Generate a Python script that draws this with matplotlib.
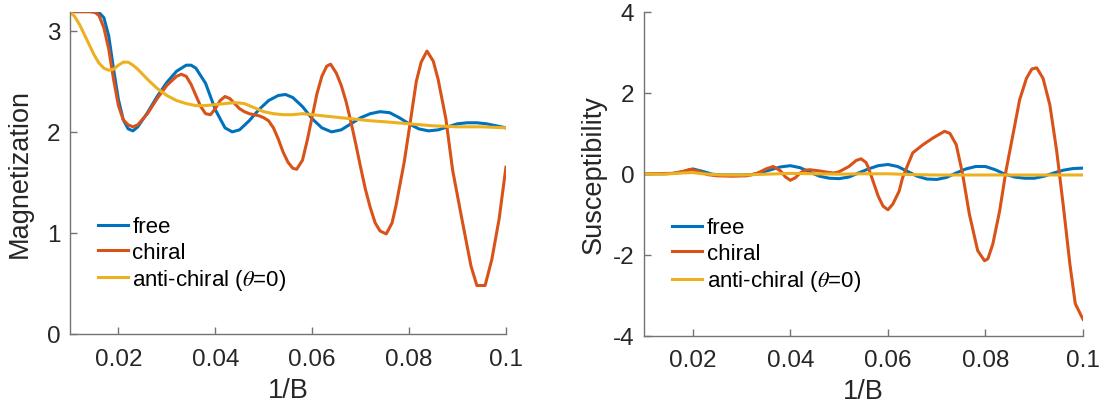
import matplotlib
matplotlib.use('Agg')
import matplotlib.pyplot as plt

plt.rcParams['font.family'] = ['Liberation Sans', 'DejaVu Sans']
plt.rcParams['mathtext.fontset'] = 'stix'
plt.rcParams['axes.unicode_minus'] = False

# Magnetization (left panel)
x_free_m = [0.010, 0.014, 0.016, 0.017, 0.018, 0.019, 0.020, 0.021, 0.022, 0.023, 0.024,
            0.026, 0.028, 0.030, 0.032, 0.034, 0.035, 0.036, 0.038, 0.040, 0.042, 0.0435,
            0.045, 0.047, 0.049, 0.051, 0.053, 0.0545, 0.056, 0.058, 0.060, 0.062, 0.064,
            0.066, 0.068, 0.070, 0.072, 0.074, 0.076, 0.078, 0.080, 0.082, 0.084, 0.086,
            0.088, 0.090, 0.092, 0.094, 0.096, 0.098, 0.100]
free_m = [3.19, 3.19, 3.18, 3.13, 2.95, 2.62, 2.32, 2.12, 2.03, 2.01, 2.05,
          2.19, 2.35, 2.49, 2.60, 2.66, 2.66, 2.63, 2.48, 2.22, 2.04, 2.00,
          2.02, 2.11, 2.22, 2.31, 2.36, 2.37, 2.34, 2.25, 2.13, 2.04, 2.00,
          2.02, 2.08, 2.14, 2.18, 2.20, 2.19, 2.14, 2.08, 2.03, 2.01, 2.02,
          2.05, 2.08, 2.09, 2.09, 2.08, 2.06, 2.04]

x_chiral_m = [0.010, 0.015, 0.016, 0.017, 0.018, 0.019, 0.020, 0.021, 0.022, 0.023, 0.024,
              0.026, 0.028, 0.030, 0.032, 0.033, 0.034, 0.035, 0.036, 0.037, 0.038, 0.039,
              0.040, 0.041, 0.042, 0.043, 0.044, 0.045, 0.046, 0.047, 0.048, 0.049, 0.050,
              0.051, 0.052, 0.053, 0.054, 0.055, 0.056, 0.0568, 0.058, 0.059, 0.060, 0.061,
              0.062, 0.063, 0.0638, 0.065, 0.066, 0.067, 0.068, 0.069, 0.070, 0.071, 0.072,
              0.073, 0.074, 0.0753, 0.0765, 0.0773, 0.079, 0.0802, 0.0815, 0.0825, 0.0837,
              0.085, 0.086, 0.0876, 0.089, 0.0909, 0.0928, 0.094, 0.0957, 0.0971, 0.0986, 0.100]
chiral_m = [3.19, 3.19, 3.15, 3.03, 2.82, 2.52, 2.26, 2.12, 2.07, 2.05, 2.07,
            2.18, 2.33, 2.46, 2.55, 2.57, 2.55, 2.47, 2.36, 2.25, 2.18, 2.17,
            2.23, 2.31, 2.35, 2.33, 2.28, 2.23, 2.20, 2.18, 2.17, 2.16, 2.14,
            2.11, 2.04, 1.93, 1.80, 1.70, 1.64, 1.63, 1.72, 1.92, 2.15, 2.38,
            2.55, 2.65, 2.67, 2.58, 2.46, 2.30, 2.10, 1.88, 1.65, 1.43, 1.25,
            1.10, 1.02, 0.99, 1.10, 1.27, 1.70, 2.08, 2.50, 2.69, 2.80,
            2.70, 2.52, 2.13, 1.62, 1.14, 0.67, 0.48, 0.48, 0.74, 1.14, 1.65]

x_anti_m = [0.010, 0.011, 0.012, 0.013, 0.014, 0.015, 0.016, 0.017, 0.018, 0.019, 0.020,
            0.021, 0.022, 0.023, 0.024, 0.026, 0.028, 0.030, 0.032, 0.034, 0.036, 0.038,
            0.040, 0.042, 0.044, 0.046, 0.048, 0.050, 0.052, 0.054, 0.056, 0.058, 0.060,
            0.062, 0.064, 0.066, 0.068, 0.070, 0.072, 0.075, 0.080, 0.085, 0.090, 0.095, 0.100]
anti_m = [3.19, 3.14, 3.06, 2.96, 2.86, 2.76, 2.68, 2.63, 2.61, 2.62, 2.66,
          2.69, 2.69, 2.66, 2.62, 2.52, 2.43, 2.36, 2.31, 2.28, 2.26, 2.26,
          2.27, 2.28, 2.29, 2.28, 2.24, 2.20, 2.18, 2.17, 2.17, 2.18, 2.17,
          2.16, 2.15, 2.14, 2.13, 2.12, 2.11, 2.10, 2.08, 2.06, 2.05, 2.05, 2.04]

# Susceptibility (right panel)
x_free_s = [0.010, 0.014, 0.016, 0.018, 0.020, 0.022, 0.024, 0.026, 0.028, 0.030, 0.032,
            0.034, 0.036, 0.038, 0.040, 0.042, 0.044, 0.046, 0.048, 0.050, 0.052, 0.054,
            0.056, 0.058, 0.060, 0.062, 0.064, 0.066, 0.068, 0.070, 0.072, 0.074, 0.076,
            0.078, 0.080, 0.082, 0.084, 0.086, 0.088, 0.090, 0.092, 0.094, 0.096, 0.098, 0.100]
free_s = [0.00, 0.00, 0.01, 0.05, 0.12, 0.06, -0.01, -0.03, -0.03, -0.03, -0.02,
          0.03, 0.10, 0.17, 0.20, 0.15, 0.04, -0.06, -0.11, -0.12, -0.08, 0.02,
          0.12, 0.20, 0.23, 0.18, 0.06, -0.06, -0.13, -0.14, -0.09, 0.02, 0.12,
          0.18, 0.18, 0.10, -0.01, -0.08, -0.11, -0.11, -0.06, 0.02, 0.09, 0.13, 0.14]

x_chiral_s = [0.010, 0.016, 0.018, 0.0195, 0.021, 0.023, 0.025, 0.028, 0.031, 0.033, 0.035,
              0.0365, 0.038, 0.039, 0.040, 0.041, 0.042, 0.043, 0.044, 0.046, 0.048, 0.049,
              0.050, 0.052, 0.0535, 0.0545, 0.0555, 0.056, 0.057, 0.058, 0.059, 0.060, 0.061,
              0.0623, 0.063, 0.064, 0.0651, 0.0672, 0.0693, 0.0716, 0.0727, 0.074, 0.0753,
              0.0767, 0.0784, 0.0798, 0.0805, 0.0815, 0.0829, 0.0842, 0.086, 0.087, 0.0884,
              0.0895, 0.0905, 0.0918, 0.0932, 0.0946, 0.096, 0.0973, 0.0984, 0.100]
chiral_s = [0.00, 0.01, 0.06, 0.11, 0.07, -0.02, -0.05, -0.06, -0.05, 0.00, 0.12,
            0.18, 0.07, -0.08, -0.16, -0.10, 0.02, 0.09, 0.10, 0.07, 0.03, 0.02,
            0.05, 0.18, 0.33, 0.37, 0.28, 0.15, -0.20, -0.55, -0.80, -0.89, -0.75,
            -0.43, -0.10, 0.20, 0.52, 0.72, 0.89, 1.05, 1.00, 0.72, 0.00,
            -1.00, -1.90, -2.15, -2.10, -1.74, -0.92, 0.07, 1.20, 1.83, 2.36,
            2.59, 2.62, 2.36, 1.70, 0.56, -0.84, -2.23, -3.21, -3.60]

x_anti_s = [0.010, 0.014, 0.018, 0.020, 0.022, 0.026, 0.030, 0.035, 0.040, 0.045, 0.050,
            0.055, 0.060, 0.065, 0.070, 0.080, 0.090, 0.100]
anti_s = [0.00, -0.01, 0.02, 0.03, 0.00, -0.03, -0.03, -0.01, 0.01, 0.00, -0.01,
          0.00, 0.00, -0.02, -0.03, -0.03, -0.03, -0.03]

labels = ['free', 'chiral', r'anti-chiral ($\theta$=0)']
colors = ['#0072BD', '#D95319', '#EDB120']
xticks = [0.02, 0.04, 0.06, 0.08, 0.1]
xticklabels = ['0.02', '0.04', '0.06', '0.08', '0.1']

fig = plt.figure(figsize=(11.02, 4.06), dpi=100)
ax1 = fig.add_axes([0.0635, 0.1749, 0.3956, 0.794])
ax2 = fig.add_axes([0.5844, 0.171, 0.3984, 0.797])

ax1.plot(x_free_m, free_m, color=colors[0], lw=2.2, label=labels[0])
ax1.plot(x_chiral_m, chiral_m, color=colors[1], lw=2.2, label=labels[1])
ax1.plot(x_anti_m, anti_m, color=colors[2], lw=2.2, label=labels[2])
ax1.set_ylim(0, 3.19)
ax1.set_yticks([0, 1, 2, 3])
ax1.set_ylabel('Magnetization', fontsize=19.5, color='0.15', labelpad=10)

ax2.plot(x_free_s, free_s, color=colors[0], lw=2.2, label=labels[0])
ax2.plot(x_chiral_s, chiral_s, color=colors[1], lw=2.2, label=labels[1])
ax2.plot(x_anti_s, anti_s, color=colors[2], lw=2.2, label=labels[2])
ax2.set_ylim(-4, 4)
ax2.set_yticks([-4, -2, 0, 2, 4])
ax2.set_ylabel('Susceptibility', fontsize=19.5, color='0.15', labelpad=4)

for ax in (ax1, ax2):
    ax.set_xlim(0.01, 0.1)
    ax.set_xticks(xticks)
    ax.set_xticklabels(xticklabels)
    ax.set_xlabel('1/B', fontsize=19.5, color='0.15', labelpad=5)
    ax.spines['top'].set_visible(False)
    ax.spines['right'].set_visible(False)
    for s in ('left', 'bottom'):
        ax.spines[s].set_color('0.45')
        ax.spines[s].set_linewidth(1.0)
    ax.tick_params(direction='in', length=5, width=1.0, color='0.45',
                   labelsize=17.5, labelcolor='0.15', pad=7)
    ax.tick_params(axis='x', pad=10)
    ax.legend(loc='upper left', bbox_to_anchor=(0.064, 0.365), frameon=False,
              fontsize=16, handlelength=1.35, handletextpad=0.2,
              borderpad=0, borderaxespad=0, labelspacing=0.2)

fig.savefig('out.png', dpi=100)
